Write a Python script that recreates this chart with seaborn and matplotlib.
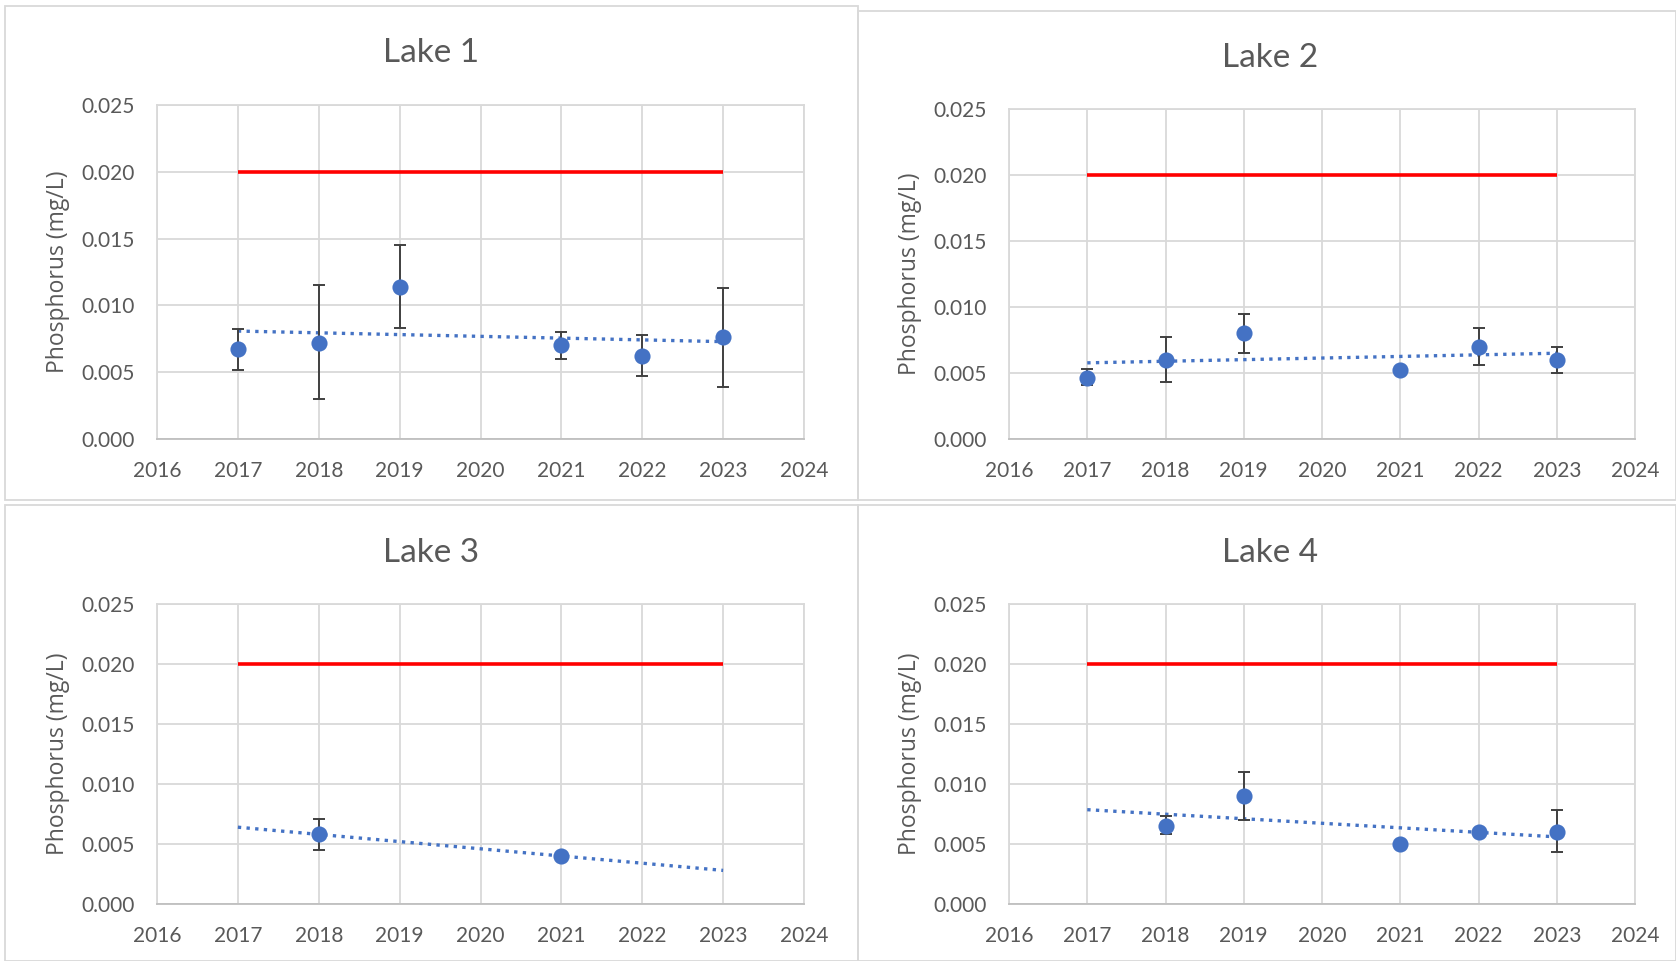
import numpy as np
import pandas as pd
import matplotlib
matplotlib.use("Agg")
import matplotlib.pyplot as plt
from matplotlib.patches import Rectangle
import seaborn as sns

# ---------------- data ----------------
lakes = ["Lake 1", "Lake 2", "Lake 3", "Lake 4"]

years_1 = [2017, 2018, 2019, 2021, 2022, 2023]
tp_1 = [0.0067, 0.0072, 0.0114, 0.0070, 0.0062, 0.0076]
lo_1 = [0.0052, 0.0030, 0.0083, 0.0060, 0.0047, 0.0039]
hi_1 = [0.0082, 0.0115, 0.0145, 0.0080, 0.0078, 0.0113]

years_2 = [2017, 2018, 2019, 2021, 2022, 2023]
tp_2 = [0.0046, 0.0060, 0.0080, 0.0052, 0.0070, 0.0060]
lo_2 = [0.0041, 0.0043, 0.0065, 0.0052, 0.0056, 0.0050]
hi_2 = [0.0053, 0.0077, 0.0095, 0.0052, 0.0084, 0.0070]

years_3 = [2018, 2021]
tp_3 = [0.0058, 0.0040]
lo_3 = [0.0045, 0.0040]
hi_3 = [0.0071, 0.0040]

years_4 = [2018, 2019, 2021, 2022, 2023]
tp_4 = [0.0065, 0.0090, 0.0050, 0.0060, 0.0060]
lo_4 = [0.0058, 0.0070, 0.0050, 0.0060, 0.0043]
hi_4 = [0.0073, 0.0110, 0.0050, 0.0060, 0.0078]

target_years = [2017, 2023]
target_value = [0.020, 0.020]
trend_span = [2017, 2023]

x_ticks = [2016, 2017, 2018, 2019, 2020, 2021, 2022, 2023, 2024]
y_ticks = [0.000, 0.005, 0.010, 0.015, 0.020, 0.025]
y_label = "Phosphorus (mg/L)"

series = [
    (years_1, tp_1, lo_1, hi_1),
    (years_2, tp_2, lo_2, hi_2),
    (years_3, tp_3, lo_3, hi_3),
    (years_4, tp_4, lo_4, hi_4),
]

# ---------------- style ----------------
sns.set_theme(style="white")
plt.rcParams["font.family"] = ["Lato", "DejaVu Sans"]

BLUE = "#4472C4"
RED = "#FF0000"
GRID = "#D9D9D9"
TEXT = "#595959"
ERR = "#404040"

W, H = 1676, 961
fig = plt.figure(figsize=(W / 100, H / 100), dpi=100)
fig.patch.set_facecolor("white")

def fx(px):
    return px / W

def fy(py):
    return 1 - py / H

# panel frames (pixel boxes: x0, y0, x1, y1)
panels = [(5, 6, 858, 500), (858, 11, 1676, 500), (5, 505, 858, 961), (858, 505, 1676, 961)]
# axes boxes (pixel): left, top, right, bottom
axes_px = [(157, 105, 804, 439), (1009, 109, 1635, 439), (157, 604, 804, 904), (1009, 604, 1635, 904)]
title_px = [(431, 53), (1270, 58), (431, 553), (1270, 553)]

for (x0, y0, x1, y1) in panels:
    fig.patches.append(Rectangle((fx(x0), fy(y1)), fx(x1 - x0), (y1 - y0) / H,
                                 transform=fig.transFigure, fill=False,
                                 edgecolor=GRID, linewidth=1.3, zorder=0))

for i, (name, (yrs, tp, lo, hi)) in enumerate(zip(lakes, series)):
    l, t, r, b = axes_px[i]
    ax = fig.add_axes([fx(l), fy(b), (r - l) / W, (b - t) / H])
    ax.set_facecolor("white")

    # target line
    sns.lineplot(x=target_years, y=target_value, ax=ax, color=RED, linewidth=2.6,
                 solid_capstyle="butt", zorder=3)

    # linear trendline (Excel-style, from the data)
    coef = np.polyfit(yrs, tp, 1)
    tx = np.array(trend_span, dtype=float)
    ty = np.polyval(coef, tx)
    sns.lineplot(x=tx, y=ty, ax=ax, color=BLUE, linewidth=2.4,
                 linestyle=(0, (1, 1.6)), zorder=4)

    # error bars
    tp_a = np.array(tp)
    yerr = np.vstack([tp_a - np.array(lo), np.array(hi) - tp_a])
    ax.errorbar(yrs, tp, yerr=yerr, fmt="none", ecolor=ERR, elinewidth=1.4,
                capsize=4, capthick=1.4, zorder=5)

    # points
    df = pd.DataFrame({"Year": yrs, "TP": tp})
    sns.scatterplot(data=df, x="Year", y="TP", ax=ax, color=BLUE, s=135,
                    edgecolor=BLUE, linewidth=0, zorder=6)

    ax.set_xlim(2016, 2024)
    ax.set_ylim(0, 0.025)
    ax.set_xticks(x_ticks)
    ax.set_xticklabels([str(v) for v in x_ticks])
    ax.set_yticks(y_ticks)
    ax.set_yticklabels([f"{v:.3f}" for v in y_ticks])
    ax.grid(True, color=GRID, linewidth=1.3)
    ax.set_axisbelow(True)
    for side, sp in ax.spines.items():
        sp.set_visible(True)
        sp.set_color(GRID)
        sp.set_linewidth(1.3)
    ax.spines["bottom"].set_color("#BFBFBF")
    ax.tick_params(axis="both", length=0, labelsize=15, labelcolor=TEXT)
    ax.tick_params(axis="y", pad=16)
    ax.tick_params(axis="x", pad=16)
    ax.set_xlabel("")
    ax.set_ylabel(y_label, fontsize=16.5, color=TEXT, labelpad=8,
                  family=["Open Sans", "DejaVu Sans"])

    tx_, ty_ = title_px[i]
    fig.text(fx(tx_), fy(ty_), name, ha="center", va="center", fontsize=24,
             color=TEXT)

fig.savefig("out.png", dpi=100, facecolor="white")
